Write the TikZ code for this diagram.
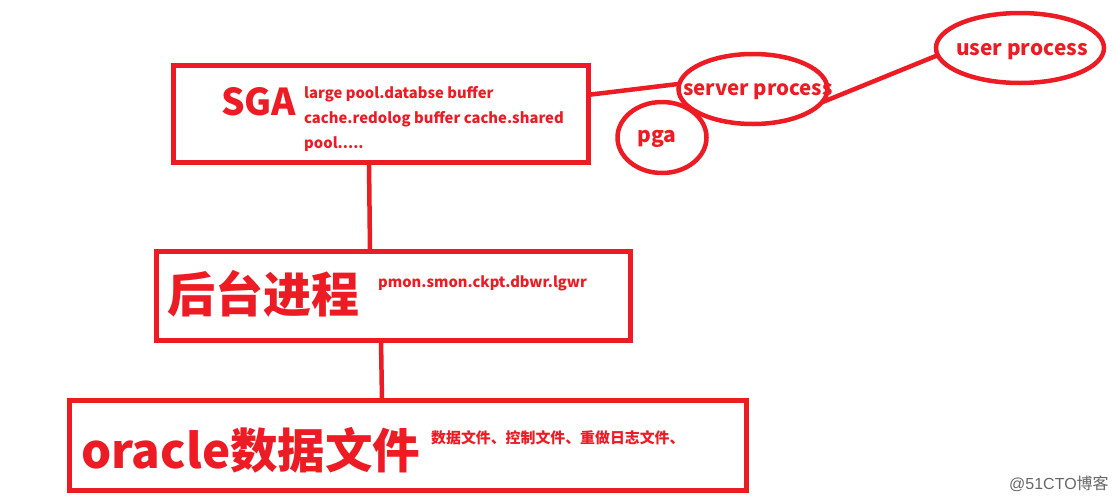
\documentclass[tikz,border=0pt]{standalone}
\usepackage{fontspec}
\setmainfont{Noto Sans CJK SC}
\newfontfamily\wm{Liberation Sans}
\usetikzlibrary{shapes.geometric}
\definecolor{rd}{HTML}{ED1C24}
\tikzset{
  x=1pt,y=-1pt,
  box/.style={draw=rd,line width=5pt,rectangle,minimum width=#1,inner sep=0pt,outer sep=0pt,anchor=north west},
  oval/.style={draw=rd,line width=4.5pt,ellipse,inner sep=0pt,outer sep=0pt},
  link/.style={draw=rd,line width=4.5pt},
  lbl/.style={text=rd,font=\bfseries,inner sep=0pt,anchor=base west},
}
\newcommand{\fs}[1]{\fontsize{#1}{#1}\selectfont}
\begin{document}
\begin{tikzpicture}
\useasboundingbox (0,0) rectangle (1118,501);
\node[box=415pt,minimum height=97pt] (sga) at (173,65) {};
\node[box=474pt,minimum height=89pt] (bg) at (156,251) {};
\node[box=677pt,minimum height=90pt] (ora) at (69,400) {};
\node[oval,minimum width=149pt,minimum height=70pt] (srv) at (753,89) {};
\node[oval,minimum width=89pt,minimum height=71pt] (pga) at (662,137.5) {};
\node[oval,minimum width=168pt,minimum height=70pt] (usr) at (1020,48) {};
\coordinate (a1) at (587,95);
\coordinate (a2) at (369,162);
\coordinate (a3) at (370,251);
\coordinate (a4) at (381,340);
\coordinate (a5) at (382,400);
\draw[link] (a1) -- (srv.176);
\draw[link] (srv.-11) -- (usr.185);
\draw[link] (a2) -- (a3);
\draw[link] (a4) -- (a5);
\node[lbl] (t1) at (221,115) {\fs{37}SGA};
\node[lbl,align=left,anchor=north west,font={\bfseries\fontsize{14.8}{25}\selectfont}] (t2) at (304,86) {large pool.databse buffer\\cache.redolog buffer cache.shared\\pool.....};
\node[lbl] (t3) at (683,95) {\fs{20.4}server process};
\node[lbl] (t4) at (637,142) {\fs{21}pga};
\node[lbl] (t5) at (956,55) {\fs{20.8}user process};
\node[lbl] (t6) at (167,312.5) {\fs{48}后台进程};
\node[lbl] (t7) at (378,287) {\fs{14.7}pmon.smon.ckpt.dbwr.lgwr};
\node[lbl] (t8) at (81,468) {\fs{47.5}oracle数据文件};
\node[lbl] (t9) at (431,443) {\fs{14.9}数据文件、控制文件、重做日志文件、};
\node[anchor=base west,inner sep=0pt,text=black!60] (w) at (1009,489) {\fs{16}\wm @51CTO\rmfamily 博客};
\end{tikzpicture}
\end{document}
